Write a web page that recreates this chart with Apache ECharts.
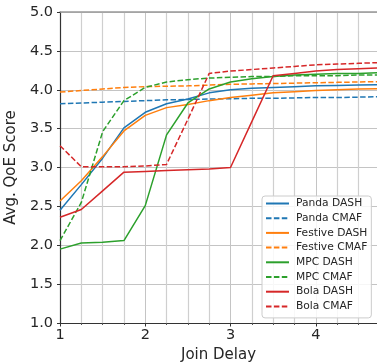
<!DOCTYPE html>
<html>
<head>
<meta charset="utf-8">
<script src="https://cdn.jsdelivr.net/npm/echarts@6/dist/echarts.min.js"></script>
<style>
  html, body { margin: 0; padding: 0; background: #fff; }
  #chart { width: 377px; height: 364px; }
</style>
</head>
<body>
<div id="chart"></div>
<script>
// join delay samples (x)
const joinDelay = [1, 1.25, 1.5, 1.75, 2, 2.25, 2.5, 2.75, 3, 3.25, 3.5, 3.75, 4, 4.25, 4.5, 4.75]

const pandaDash   = [2.45, 2.78, 3.12, 3.51, 3.71, 3.82, 3.88, 3.96, 4.00, 4.02, 4.03, 4.04, 4.05, 4.055, 4.06, 4.065]
const pandaCmaf   = [3.82, 3.83, 3.84, 3.85, 3.86, 3.87, 3.875, 3.88, 3.885, 3.89, 3.89, 3.895, 3.90, 3.90, 3.905, 3.91]
const festiveDash = [2.57, 2.83, 3.14, 3.47, 3.67, 3.77, 3.81, 3.86, 3.90, 3.93, 3.96, 3.975, 3.99, 4.00, 4.01, 4.015]
const festiveCmaf = [3.97, 3.99, 4.01, 4.03, 4.04, 4.045, 4.05, 4.06, 4.07, 4.075, 4.08, 4.085, 4.09, 4.095, 4.10, 4.105]
const mpcDash     = [1.95, 2.03, 2.04, 2.06, 2.51, 3.42, 3.83, 4.01, 4.10, 4.14, 4.17, 4.19, 4.20, 4.21, 4.21, 4.22]
const mpcCmaf     = [2.06, 2.55, 3.46, 3.86, 4.03, 4.10, 4.13, 4.15, 4.16, 4.17, 4.17, 4.18, 4.18, 4.18, 4.19, 4.19]
const bolaDash    = [2.36, 2.46, 2.70, 2.94, 2.95, 2.96, 2.97, 2.98, 3.00, 3.59, 4.18, 4.21, 4.24, 4.26, 4.27, 4.28]
const bolaCmaf    = [3.28, 3.01, 3.01, 3.01, 3.02, 3.04, 3.62, 4.21, 4.24, 4.26, 4.28, 4.30, 4.32, 4.33, 4.34, 4.35]

const seriesDefs = [
  { name: "Panda DASH", values: pandaDash, color: "#1f77b4", dashed: false },
  { name: "Panda CMAF", values: pandaCmaf, color: "#1f77b4", dashed: true },
  { name: "Festive DASH", values: festiveDash, color: "#ff7f0e", dashed: false },
  { name: "Festive CMAF", values: festiveCmaf, color: "#ff7f0e", dashed: true },
  { name: "MPC DASH", values: mpcDash, color: "#2ca02c", dashed: false },
  { name: "MPC CMAF", values: mpcCmaf, color: "#2ca02c", dashed: true },
  { name: "Bola DASH", values: bolaDash, color: "#d62728", dashed: false },
  { name: "Bola CMAF", values: bolaCmaf, color: "#d62728", dashed: true },
]

const textColor = "#262626"
const font = "DejaVu Sans"

const chart = echarts.init(document.getElementById("chart"), null, { renderer: "canvas" })

const series = seriesDefs.map((s) => ({
  name: s.name,
  type: "line",
  symbol: "none",
  color: s.color,
  lineStyle: {
    color: s.color,
    width: 1.5,
    type: s.dashed ? [5.5, 2.4] : "solid",
  },
  data: joinDelay.map((x, i) => [x, s.values[i]]),
}))

chart.setOption({
  animation: false,
  backgroundColor: "#fff",
  textStyle: { fontFamily: font },
  grid: { left: 60, right: -24, top: 12, bottom: 41, containLabel: false, outerBoundsMode: "none" },
  legend: {
    orient: "vertical",
    left: 262,
    top: 196,
    padding: [2, 4, 6, 3],
    itemWidth: 23,
    itemHeight: 11,
    itemGap: 3.7,
    itemStyle: { opacity: 0 },
    backgroundColor: "rgba(255,255,255,0.85)",
    borderColor: "#cccccc",
    borderWidth: 1,
    borderRadius: 3,
    textStyle: { fontFamily: font, fontSize: 10.7, color: textColor, padding: [0, 0, 0, 2] },
    data: seriesDefs.map((s) => s.name),
  },
  xAxis: [
    {
      type: "value",
      min: 1,
      max: 5,
      interval: 1,
      name: "Join Delay",
      nameLocation: "middle",
      nameGap: 22,
      nameTextStyle: { fontFamily: font, fontSize: 15, color: textColor, padding: [0, 24, 0, 0] },
      axisLine: { show: true, onZero: false, lineStyle: { color: "#333", width: 1.2 } },
      axisTick: { show: true, length: 3.5, lineStyle: { color: "#333" } },
      minorTick: { show: true, splitNumber: 4, length: 2, lineStyle: { color: "#555" } },
      axisLabel: {
        fontFamily: font,
        fontSize: 14.5,
        color: textColor,
        margin: 5,
        formatter: (v) => (Number.isInteger(v) ? String(v) : ""),
      },
      splitLine: { show: true, lineStyle: { color: "#c4c4c4", width: 1 } },
      minorSplitLine: { show: true, lineStyle: { color: "#cfcfcf", width: 1.2 } },
    },
    {
      type: "value",
      position: "top",
      min: 1,
      max: 5,
      axisLine: { show: true, onZero: false, lineStyle: { color: "#999", width: 1.5 } },
      axisTick: { show: false },
      axisLabel: { show: false },
      splitLine: { show: false },
    },
  ],
  yAxis: {
    type: "value",
    min: 1,
    max: 5,
    interval: 0.5,
    name: "Avg. QoE Score",
    nameLocation: "middle",
    nameGap: 38,
    nameTextStyle: { fontFamily: font, fontSize: 15, color: textColor },
    axisLine: { show: true, onZero: false, lineStyle: { color: "#333", width: 1.2 } },
    axisTick: { show: true, length: 3, lineStyle: { color: "#333" } },
    axisLabel: {
      fontFamily: font,
      fontSize: 14.5,
      color: textColor,
      margin: 7,
      formatter: (v) => v.toFixed(1),
    },
    splitLine: { show: true, lineStyle: { color: "#c4c4c4", width: 1 } },
  },
  series,
})
</script>
</body>
</html>
